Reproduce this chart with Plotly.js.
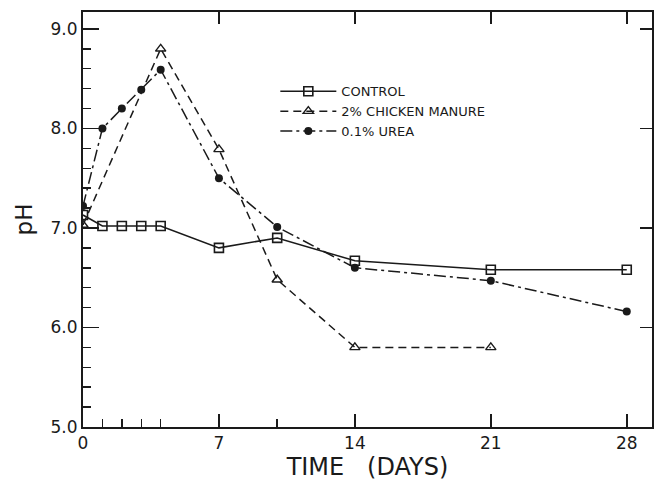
<!DOCTYPE html>
<html><head><meta charset="utf-8">
<script src="https://cdn.plot.ly/plotly-3.0.1.min.js"></script>
<style>html,body{margin:0;padding:0;background:#fff}#c{width:655px;height:487px}</style>
</head><body><div id="c"></div>
<script>
const days_control = [0,1,2,3,4,7,10,14,21,28];
const ph_control = [7.13,7.02,7.02,7.02,7.02,6.80,6.90,6.67,6.58,6.58];
const days_manure = [0,4,7,10,14,21];
const ph_manure = [7.03,8.80,7.79,6.48,5.80,5.80];
const days_urea = [0,1,2,3,4,7,10,14,21,28];
const ph_urea = [7.22,8.00,8.20,8.39,8.59,7.50,7.01,6.60,6.47,6.16];
const names = ["CONTROL","2% CHICKEN MANURE","0.1% UREA"];
const xMajor = [0,7,14,21,28];
const xMinor = [1,2,3,4,10];
const yMajor = [5,6,7,8,9];
const yMajorText = ["5.0","6.0","7.0","8.0","9.0"];

const col = '#1a1a1a';
const traces = [
 {x:days_control,y:ph_control,name:names[0],mode:'lines+markers',
  line:{color:col,width:1.5,dash:'solid'},
  marker:{symbol:'square-open',size:9,color:col,line:{width:1.6}}},
 {x:days_manure,y:ph_manure,name:names[1],mode:'lines+markers',
  line:{color:col,width:1.5,dash:'8px,5px'},
  marker:{symbol:'triangle-up-open',size:9,color:col,line:{width:1.4}}},
 {x:days_urea,y:ph_urea,name:names[2],mode:'lines+markers',
  line:{color:col,width:1.5,dash:'12px,4px,3px,4px'},
  marker:{symbol:'circle',size:8,color:col}},
 {x:[null],y:[null],xaxis:'x2',yaxis:'y2',mode:'markers',showlegend:false,hoverinfo:'skip'}
];
const layout = {
 width:655,height:487,
 margin:{l:83,r:3,t:12,b:60},
 paper_bgcolor:'#fff',plot_bgcolor:'#fff',
 font:{family:'DejaVu Sans, sans-serif',color:col},
 showlegend:true,
 legend:{x:0.338,y:0.845,xanchor:'left',yanchor:'top',bgcolor:'rgba(0,0,0,0)',
   font:{size:13,family:'DejaVu Sans, sans-serif',color:col},itemwidth:56,tracegroupgap:0},
 xaxis:{range:[0,29.3],showgrid:false,zeroline:false,showline:true,linecolor:col,linewidth:2,
   mirror:true,ticks:'inside',ticklen:13,tickwidth:1.5,tickcolor:col,
   tickmode:'array',tickvals:xMajor,ticktext:xMajor.map(String),
   tickfont:{size:17,color:col},
   minor:{tickmode:'array',tickvals:xMinor,ticks:'inside',ticklen:8,tickwidth:1.5,tickcolor:col,showgrid:false},
   title:{text:'TIME   (DAYS)',font:{size:24,color:col},standoff:6}},
 xaxis2:{range:[0,29.3],overlaying:'x',anchor:'y2',side:'top',showgrid:false,zeroline:false,
   showline:false,ticks:'inside',ticklen:12,tickwidth:1.5,tickcolor:col,showticklabels:false,
   tickmode:'array',tickvals:xMajor.slice(1)},
 yaxis:{range:[5,9.17],showgrid:false,zeroline:false,showline:true,linecolor:col,linewidth:2,
   mirror:true,ticks:'inside',ticklen:16,tickwidth:1.5,tickcolor:col,
   tickmode:'array',tickvals:yMajor,ticktext:yMajorText,
   tickfont:{size:17,color:col},
   minor:{dtick:0.2,tick0:5,ticks:'inside',ticklen:8,tickwidth:1.5,tickcolor:col,showgrid:false},
   title:{text:'pH',font:{size:23,color:col},standoff:12}},
 yaxis2:{range:[5,9.17],overlaying:'y',anchor:'x2',side:'right',showgrid:false,zeroline:false,
   showline:false,ticks:'inside',ticklen:12,tickwidth:1.5,tickcolor:col,showticklabels:false,
   tickmode:'array',tickvals:yMajor.slice(1)}
};
Plotly.newPlot('c',traces,layout,{displayModeBar:false,staticPlot:true});
</script></body></html>
